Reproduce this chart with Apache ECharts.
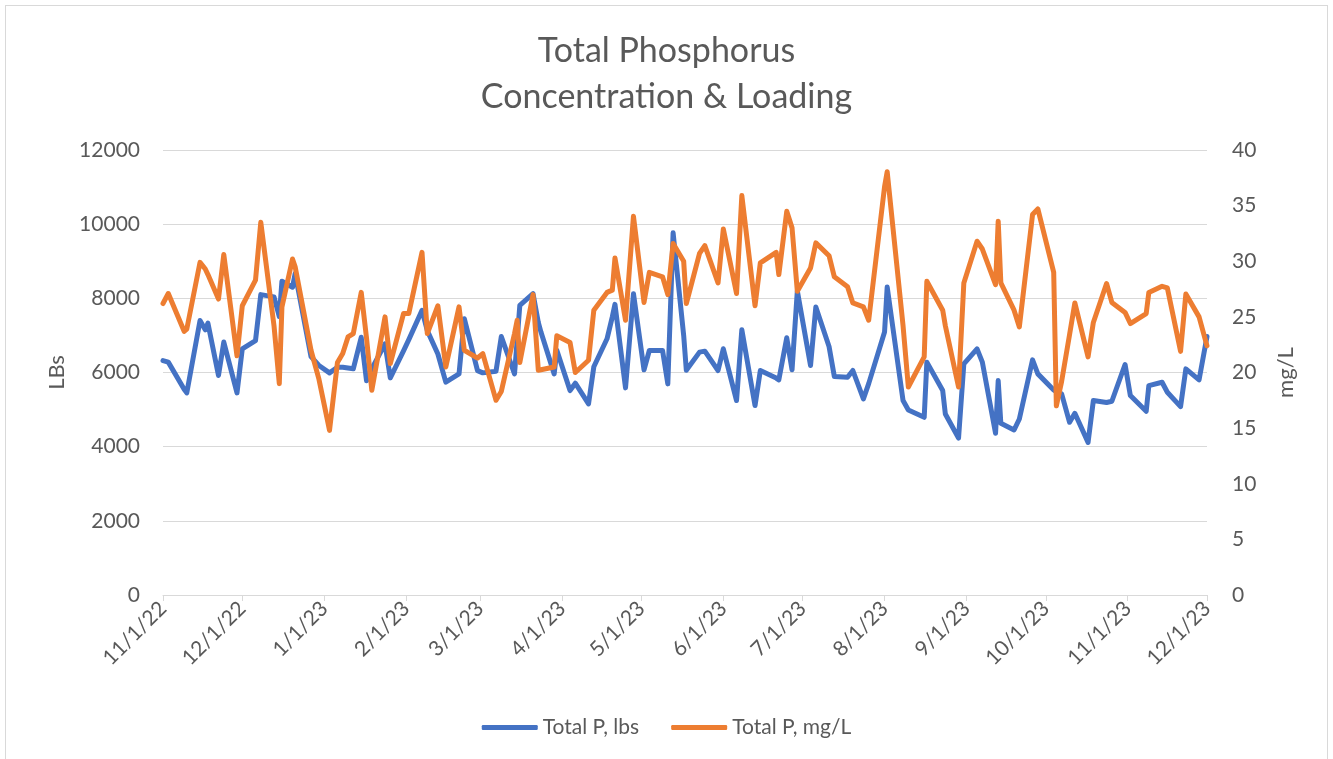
<!DOCTYPE html>
<html>
<head>
<meta charset="utf-8">
<script src="https://cdn.jsdelivr.net/npm/echarts@6/dist/echarts.min.js"></script>
<style>
  html, body { margin: 0; padding: 0; background: #ffffff; }
  #wrap { position: relative; width: 1333px; height: 759px; overflow: hidden; background: #fff; }
  #frame { position: absolute; left: 5px; top: 5px; width: 1323px; height: 770px; border: 1px solid #d9d9d9; box-sizing: border-box; }
  #chart { position: absolute; left: 0; top: 0; width: 1333px; height: 759px; }
</style>
</head>
<body>
<div id="wrap">
  <div id="frame"></div>
  <div id="chart"></div>
</div>
<script>
// Sample dates, as days since 2022-11-01
const sampleDays = [0,2,8,9,14,16,17,21,23,28,
  30,35,37,42,44,45,49,50,56,59,
  63,66,68,70,72,75,77,79,84,86,
  91,93,98,100,104,107,112,114,119,121,
  126,128,133,134,135,140,142,143,148,149,
  154,156,161,163,168,170,171,175,178,182,
  184,189,191,193,197,198,203,205,210,212,
  217,219,224,226,232,233,236,238,240,245,
  247,252,254,259,261,265,267,273,274,280,
  282,288,289,295,296,301,303,308,310,315,
  316,317,322,324,329,331,337,338,340,343,
  345,350,352,357,359,364,366,372,373,378,
  380,385,387,392,395];

// Total P, lbs
const totalPLbs = [6320,6280,5550,5450,7400,7150,7330,5920,6820,5450,
  6640,6860,8100,8040,7510,8460,8300,8670,6430,6190,
  5990,6140,6140,6120,6100,6950,5780,6100,6770,5855,
  6585,6885,7675,7130,6500,5740,5960,7450,6050,5990,
  6035,6970,5963,6880,7810,8126,7350,7090,5963,6600,
  5513,5712,5152,6154,6909,7500,7837,5585,8126,6072,
  6594,6594,5693,9766,7000,6060,6549,6576,6054,6639,
  5243,7153,5108,6054,5850,5802,6936,6072,8198,6189,
  7765,6702,5891,5873,6054,5288,5700,7090,8306,5243,
  4990,4792,6279,5513,4882,4233,6234,6639,6279,4360,
  5783,4630,4450,4747,6342,5963,5531,5480,5423,4657,
  4900,4116,5243,5190,5225,6216,5378,4954,5648,5738,
  5468,5080,6098,5801,6972];

// Total P, mg/L
const totalPMgL = [26.2,27.1,23.7,23.9,29.9,29.3,28.8,26.6,30.6,21.5,
  26.0,28.3,33.5,24.2,19.0,25.9,30.2,29.5,22.0,19.4,
  14.8,20.9,21.7,23.2,23.5,27.2,23.1,18.4,25.0,20.8,
  25.3,25.3,30.8,23.5,26.0,20.5,25.9,22.0,21.3,21.7,
  17.5,18.3,23.5,24.7,20.9,27.0,20.2,20.25,20.5,23.3,
  22.7,20.0,21.1,25.6,27.2,27.4,30.3,24.7,34.05,26.3,
  29.0,28.6,27.0,31.6,30.0,26.2,30.7,31.4,28.05,32.9,
  27.1,35.9,26.0,29.85,30.8,28.8,34.5,33.0,27.3,29.4,
  31.65,30.5,28.6,27.7,26.25,25.9,24.7,36.7,38.05,24.2,
  18.7,21.4,28.2,25.6,24.2,18.7,28.05,31.8,31.1,27.9,
  33.6,28.05,25.6,24.1,34.2,34.7,29.0,17.0,19.2,23.4,
  26.25,21.4,24.5,28.0,26.3,25.4,24.4,25.3,27.2,27.75,
  27.6,21.9,27.05,25.0,22.4];

// X-axis ticks (days since 2022-11-01) and their labels
const tickDays = [0,30,61,92,120,151,181,212,242,273,304,334,365,395];
const tickLabels = ['11/1/22','12/1/22','1/1/23','2/1/23','3/1/23','4/1/23','5/1/23',
  '6/1/23','7/1/23','8/1/23','9/1/23','10/1/23','11/1/23','12/1/23'];

const seriesNames = ['Total P, lbs', 'Total P, mg/L'];

const FONT = 'Lato';
const TXT = '#595959';
const GRID = '#d9d9d9';

const lbsData = sampleDays.map((d, i) => [d, totalPLbs[i]]);
const mglData = sampleDays.map((d, i) => [d, totalPMgL[i]]);

const chart = echarts.init(document.getElementById('chart'), null, { renderer: 'canvas' });
chart.setOption({
  animation: false,
  backgroundColor: 'transparent',
  textStyle: { fontFamily: FONT, color: TXT },
  title: {
    text: 'Total Phosphorus\nConcentration & Loading',
    left: 'center',
    top: 23,
    textStyle: { fontFamily: FONT, fontSize: 34, fontWeight: 'normal', color: TXT, lineHeight: 46 }
  },
  legend: {
    bottom: 16,
    left: 'center',
    itemWidth: 56,
    itemHeight: 5,
    itemGap: 32,
    icon: 'roundRect',
    textStyle: { fontFamily: FONT, fontSize: 21, color: TXT },
    data: seriesNames
  },
  grid: { left: 163, right: 126, top: 150, bottom: 164, containLabel: false },
  xAxis: {
    type: 'value',
    min: 0,
    max: 395,
    axisLine: { show: true, lineStyle: { color: GRID, width: 1 } },
    axisTick: { show: true, customValues: tickDays, length: 6, lineStyle: { color: GRID } },
    splitLine: { show: false },
    axisLabel: {
      customValues: tickDays,
      rotate: 45,
      margin: 10,
      fontFamily: FONT,
      fontSize: 21,
      color: TXT,
      formatter: function (v) {
        const idx = tickDays.indexOf(Math.round(v));
        return idx >= 0 ? tickLabels[idx] : '';
      }
    }
  },
  yAxis: [
    {
      type: 'value',
      min: 0, max: 12000, interval: 2000,
      name: 'LBs',
      nameLocation: 'middle',
      nameRotate: 90,
      nameGap: 94,
      nameTextStyle: { fontFamily: FONT, fontSize: 22, color: TXT },
      axisLine: { show: false },
      axisTick: { show: false },
      splitLine: { show: true, lineStyle: { color: GRID, width: 1 } },
      axisLabel: { margin: 23, fontFamily: FONT, fontSize: 21, color: TXT, formatter: function (v) { return String(v); } }
    },
    {
      type: 'value',
      min: 0, max: 40, interval: 5,
      name: 'mg/L',
      nameLocation: 'middle',
      nameRotate: 90,
      nameGap: 68,
      nameTextStyle: { fontFamily: FONT, fontSize: 22, color: TXT },
      axisLine: { show: false },
      axisTick: { show: false },
      splitLine: { show: false },
      axisLabel: { margin: 25, fontFamily: FONT, fontSize: 21, color: TXT, formatter: function (v) { return String(v); } }
    }
  ],
  series: [
    {
      name: seriesNames[0],
      type: 'line',
      yAxisIndex: 0,
      data: lbsData,
      showSymbol: false,
      symbol: 'none',
      color: '#4472C4',
      lineStyle: { width: 5, color: '#4472C4', cap: 'round', join: 'round' },
      z: 2
    },
    {
      name: seriesNames[1],
      type: 'line',
      yAxisIndex: 1,
      data: mglData,
      showSymbol: false,
      symbol: 'none',
      color: '#ED7D31',
      lineStyle: { width: 5, color: '#ED7D31', cap: 'round', join: 'round' },
      z: 3
    }
  ]
});
</script>
</body>
</html>
